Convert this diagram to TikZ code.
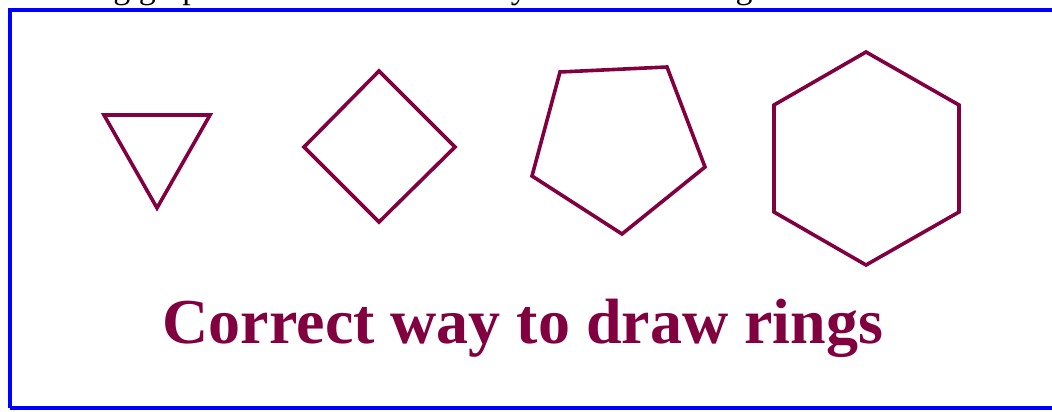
\documentclass[tikz,border=0pt]{standalone}
\usepackage{fontspec}
\setmainfont{Liberation Serif}
\definecolor{ringcol}{RGB}{128,0,64}
\definecolor{framecol}{RGB}{0,0,255}
\tikzset{
  ring/.style={draw=ringcol, line width=3.6pt, line join=miter},
  frame/.style={draw=framecol, line width=4pt},
  title/.style={text=ringcol, font=\bfseries\fontsize{64}{70}\selectfont, inner sep=0pt, anchor=base},
  toptext/.style={text=black, font=\fontsize{34}{40}\selectfont, inner sep=0pt, anchor=base west}
}
\begin{document}
\begin{tikzpicture}[x=1pt,y=-1pt]
\useasboundingbox (0,0) rectangle (1052,412);
% cut-off line of text above the frame
\node[toptext] (intro) at (-2,-1.5) {following graph shows the correct way to draw the rings.};
% frame
\draw[frame] (10,408) -- (10,10.5) -- (1060,10.5);
\draw[frame] (10,408) -- (1060,408);
% rings
\draw[ring] (104,115) -- (210,115) -- (157,208) -- cycle;
\draw[ring] (304,147) -- (379,71) -- (455,147) -- (379,222) -- cycle;
\draw[ring] (560,72) -- (667,67) -- (705,167) -- (622,234) -- (532,176) -- cycle;
\draw[ring] (866,52) -- (959,105) -- (959,212) -- (866,265) -- (774,212) -- (774,105) -- cycle;
% title
\node[title] (caption) at (523,343) {Correct way to draw rings};
\end{tikzpicture}
\end{document}
